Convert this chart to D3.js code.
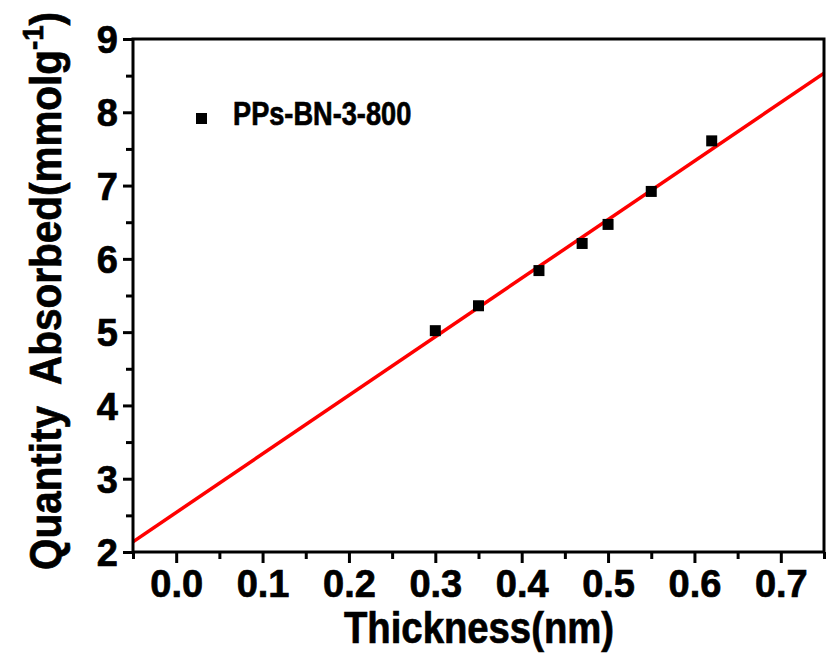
<!DOCTYPE html>
<html>
<head>
<meta charset="utf-8">
<title>Quantity absorbed vs thickness</title>
<script src="https://d3js.org/d3.v7.min.js"></script>
<style>
  body { margin: 0; background: white; }
  svg { display: block; font-family: "Liberation Sans", Arial, sans-serif; font-weight: bold; }
  text { stroke: black; stroke-width: 0.7px; }
</style>
</head>
<body>
<svg id="chart" width="826" height="657"></svg>
<script>
// data
const thickness = [0.30, 0.35, 0.42, 0.47, 0.50, 0.55, 0.62];
const absorbed  = [5.02, 5.36, 5.84, 6.21, 6.47, 6.92, 7.61];
const seriesName = "PPs-BN-3-800";
const xTicks = [0.0, 0.1, 0.2, 0.3, 0.4, 0.5, 0.6, 0.7];
const yTicks = [2, 3, 4, 5, 6, 7, 8, 9];

const svg = d3.select("#chart");
const plotL = 133, plotR = 824, plotT = 39, plotB = 552;

const x = d3.scaleLinear([-0.05, 0.75], [plotL, plotR]);
const y = d3.scaleLinear([2, 9], [plotB, plotT]);

// minor ticks halfway between the majors
const xMinor = d3.range(-0.05, 0.76, 0.1);
const yMinor = d3.range(2.5, 9, 1);

// least squares fit line
const mx = d3.mean(thickness), my = d3.mean(absorbed);
let sxy = 0, sxx = 0;
thickness.forEach((t, i) => { sxy += (t - mx) * (absorbed[i] - my); sxx += (t - mx) * (t - mx); });
const slope = sxy / sxx, icpt = my - slope * mx;

// fit line, clipped to the frame
svg.append("clipPath").attr("id", "clip")
  .append("rect").attr("x", plotL).attr("y", plotT).attr("width", plotR - plotL).attr("height", plotB - plotT);

svg.append("line")
  .attr("clip-path", "url(#clip)")
  .attr("x1", x(-0.05)).attr("y1", y(icpt + slope * -0.05))
  .attr("x2", x(0.75)).attr("y2", y(icpt + slope * 0.75))
  .attr("stroke", "#ff0000").attr("stroke-width", 3.5);

// points
const pts = thickness.map((t, i) => ({t: t, v: absorbed[i]}));
svg.selectAll("rect.pt").data(pts).join("rect")
  .attr("class", "pt")
  .attr("x", d => x(d.t) - 5.5).attr("y", d => y(d.v) - 5.5)
  .attr("width", 11).attr("height", 11).attr("fill", "black");

// axes
const xAxis = svg.append("g").attr("transform", `translate(0,${plotB})`)
  .call(d3.axisBottom(x).tickValues(xTicks).tickSize(11).tickFormat(d3.format(".1f")));
svg.append("g").attr("transform", `translate(0,${plotB})`)
  .call(d3.axisBottom(x).tickValues(xMinor).tickSize(7).tickFormat(""));
const yAxis = svg.append("g").attr("transform", `translate(${plotL},0)`)
  .call(d3.axisLeft(y).tickValues(yTicks).tickSize(10).tickFormat(d3.format("d")));
svg.append("g").attr("transform", `translate(${plotL},0)`)
  .call(d3.axisLeft(y).tickValues(yMinor).tickSize(7).tickFormat(""));

svg.selectAll(".domain").remove();
svg.selectAll(".tick line").attr("stroke", "black").attr("stroke-width", 3);
svg.selectAll(".tick text").attr("fill", "black").attr("font-size", 38).attr("font-weight", "bold")
  .attr("font-family", "'Liberation Sans', Arial, sans-serif");
xAxis.selectAll(".tick text").attr("y", 45).attr("dy", null);
yAxis.selectAll(".tick text").attr("x", -15).attr("dy", "0.36em");

// frame
svg.append("rect")
  .attr("x", plotL).attr("y", plotT).attr("width", plotR - plotL).attr("height", plotB - plotT)
  .attr("fill", "none").attr("stroke", "black").attr("stroke-width", 3);

// legend
svg.append("rect").attr("x", 196).attr("y", 113).attr("width", 11).attr("height", 11).attr("fill", "black");
svg.append("text")
  .attr("transform", "translate(233,125) scale(0.8,1)")
  .attr("font-size", 34).text(seriesName);

// axis titles
svg.append("text")
  .attr("transform", "translate(479,643) scale(0.87,1)")
  .attr("text-anchor", "middle").attr("font-size", 44)
  .text("Thickness(nm)");

const yt = svg.append("text")
  .attr("transform", "translate(61,291) rotate(-90) scale(0.92,1)")
  .attr("text-anchor", "middle").attr("font-size", 44)
  .attr("xml:space", "preserve");
yt.append("tspan").text("Quantity  Absorbed(mmolg");
yt.append("tspan").attr("font-size", 30).attr("dy", -18).text("-1");
yt.append("tspan").attr("dy", 18).text(")");
</script>
</body>
</html>
